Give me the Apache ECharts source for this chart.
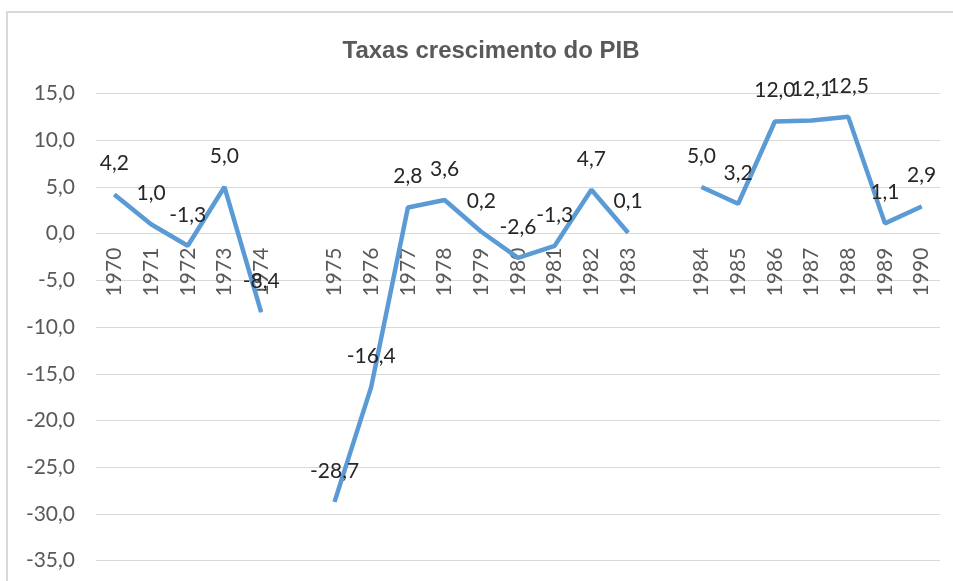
<!DOCTYPE html>
<html>
<head>
<meta charset="utf-8">
<script src="https://cdn.jsdelivr.net/npm/echarts@6/dist/echarts.min.js"></script>
<style>
  html, body { margin: 0; padding: 0; background: #fff; }
  #main { width: 953px; height: 581px; }
</style>
</head>
<body>
<div id="main"></div>
<script>
// anos (as categorias vazias fazem os intervalos entre os blocos)
var anos = ['1970', '1971', '1972', '1973', '1974', '',
            '1975', '1976', '1977', '1978', '1979', '1980', '1981', '1982', '1983', '',
            '1984', '1985', '1986', '1987', '1988', '1989', '1990'];
// taxas de crescimento do PIB (%)
var taxas = [4.2, 1.0, -1.3, 5.0, -8.4, null,
             -28.7, -16.4, 2.8, 3.6, 0.2, -2.6, -1.3, 4.7, 0.1, null,
             5.0, 3.2, 12.0, 12.1, 12.5, 1.1, 2.9];
var yMin = -35, yMax = 15, yStep = 5;

var gridTop = 93.5, gridBottom = 20.3, alturaTotal = 581;
// o eixo x fica na linha do zero (onZero não move os rótulos aqui)
var alturaGrid = alturaTotal - gridTop - gridBottom;
var deslocZero = -alturaGrid * (0 - yMin) / (yMax - yMin);

function virgula(v) {
    return Number(v).toFixed(1).replace('.', ',');
}

var myChart = echarts.init(document.getElementById('main'));

var option = {
    backgroundColor: '#fff',
    animation: false,
    title: {
        text: 'Taxas crescimento do PIB',
        left: 486,
        textAlign: 'center',
        top: 34,
        textStyle: {
            fontFamily: 'Liberation Sans',
            fontSize: 24,
            fontWeight: 'bold',
            color: '#595959'
        }
    },
    graphic: [{
        type: 'rect',
        shape: { x: 7, y: 12, width: 980, height: 620 },
        style: { fill: 'none', stroke: '#d9d9d9', lineWidth: 2 },
        silent: true
    }],
    grid: {
        left: 96, right: 13, top: gridTop, bottom: gridBottom,
        containLabel: false,
        outerBoundsMode: 'none'
    },
    xAxis: {
        type: 'category',
        data: anos,
        boundaryGap: true,
        offset: deslocZero,
        axisLine: { onZero: false, lineStyle: { color: '#d9d9d9', width: 1 } },
        axisTick: { show: false },
        axisLabel: {
            rotate: 90,
            margin: 14,
            interval: 0,
            padding: [8, 0, 0, 0],
            fontFamily: 'Lato',
            fontSize: 21,
            color: '#595959'
        }
    },
    yAxis: {
        type: 'value',
        min: yMin,
        max: yMax,
        interval: yStep,
        axisLine: { show: false },
        axisTick: { show: false },
        splitLine: { lineStyle: { color: '#d9d9d9', width: 1 } },
        axisLabel: {
            margin: 21,
            fontFamily: 'Lato',
            fontSize: 21,
            color: '#595959',
            formatter: virgula
        }
    },
    series: [{
        name: 'PIB',
        type: 'line',
        data: taxas,
        connectNulls: false,
        symbol: 'circle',
        symbolSize: 1,
        itemStyle: { color: '#5b9bd5' },
        lineStyle: { color: '#5b9bd5', width: 4.5 },
        label: {
            show: true,
            position: 'top',
            distance: 20,
            fontFamily: 'Lato',
            fontSize: 21,
            color: '#262626',
            formatter: function (p) { return virgula(p.value); }
        }
    }]
};

myChart.setOption(option);
</script>
</body>
</html>
